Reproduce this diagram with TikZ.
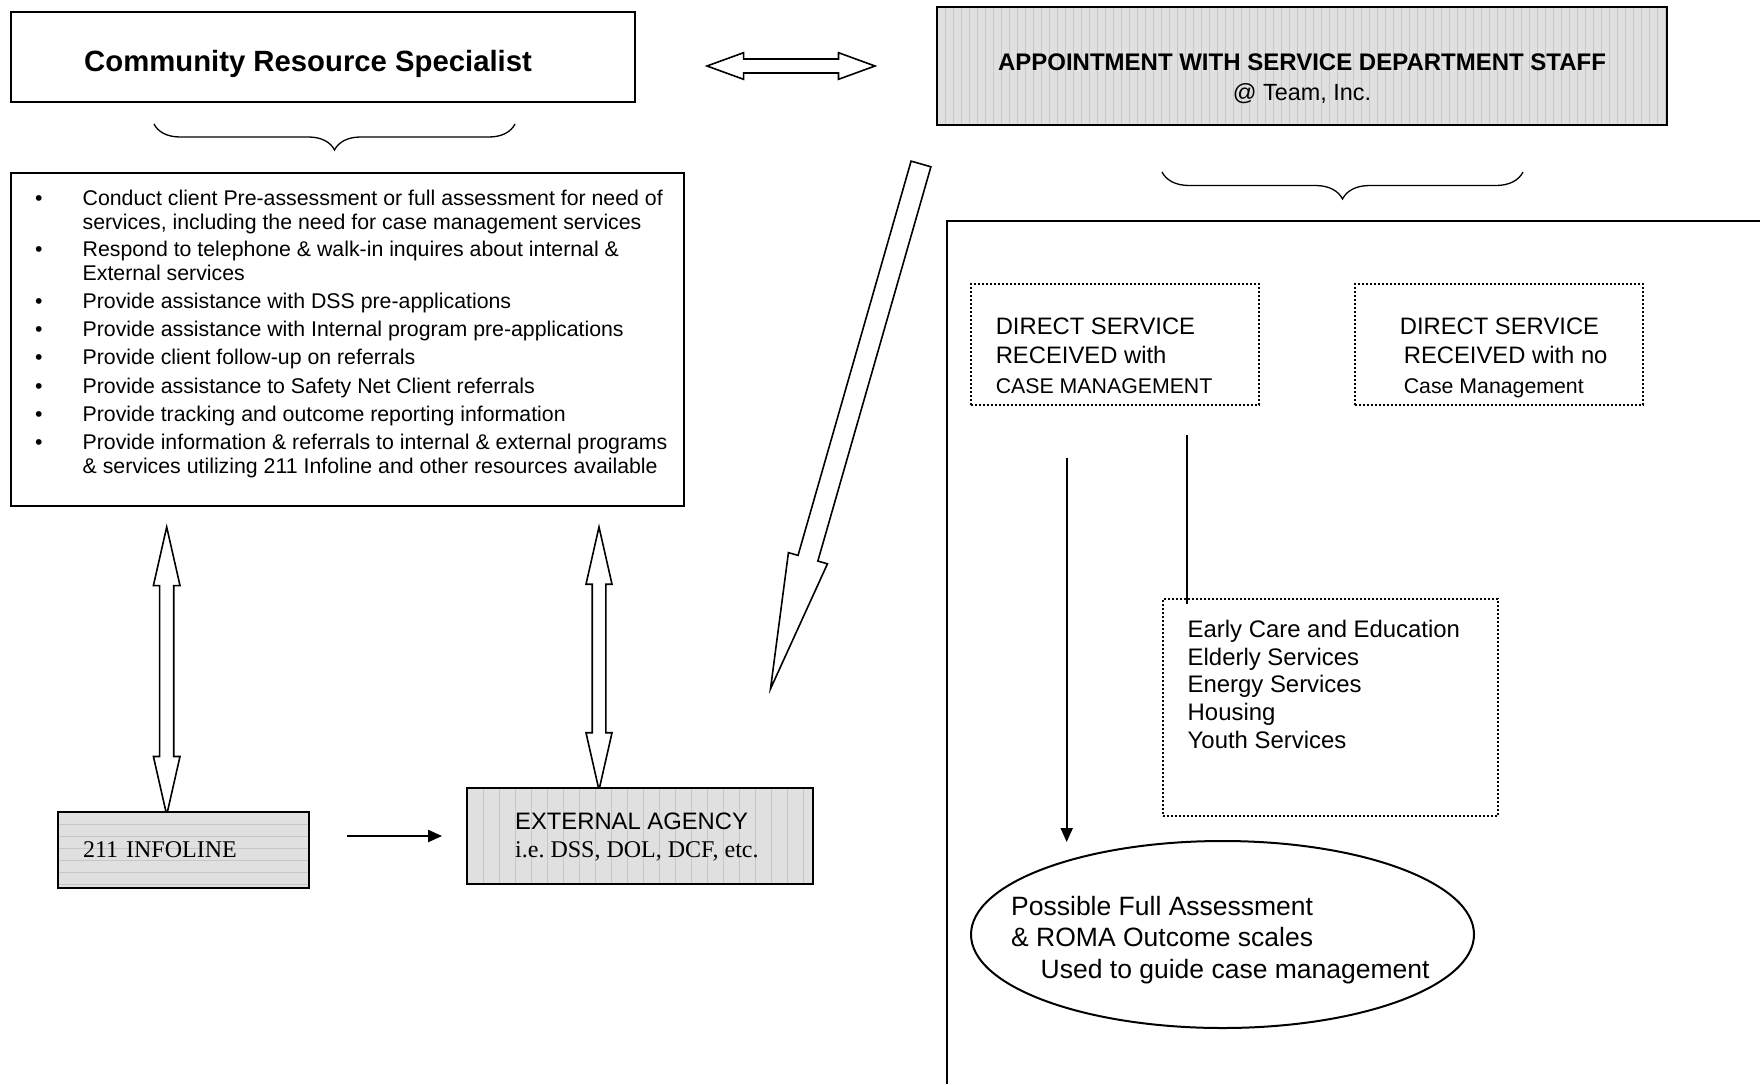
\documentclass[tikz,border=0pt]{standalone}
\usepackage{fontspec}
\setmainfont{Liberation Sans}
\newfontfamily\timesfont{Liberation Serif}
\usetikzlibrary{shapes.arrows,shapes.geometric,decorations.pathreplacing,arrows.meta}

\begin{document}
\begin{tikzpicture}[x=1pt,y=-1pt,
  box/.style={draw,line width=1.8pt,inner sep=0pt},
  shaded/.style={box,fill=black!12},
  vhatch/.style={path picture={\foreach \i in {0,#1,...,760}
    \draw[black!22,line width=0.6pt] ([xshift=\i pt]path picture bounding box.north west) -- ([xshift=\i pt]path picture bounding box.south west);}},
  hhatch/.style={path picture={\foreach \i in {0,#1,...,120}
    \draw[black!22,line width=0.6pt] ([yshift=-\i pt]path picture bounding box.north west) -- ([yshift=-\i pt]path picture bounding box.north east);}},
  dotbox/.style={draw,line width=1.8pt,dash pattern=on 1.8pt off 2.2pt,inner sep=0pt},
  blockarrow/.style={draw,line width=1.6pt,inner xsep=0pt,minimum width=0pt},
  conn/.style={line width=2pt,-{Triangle[length=14pt,width=12pt]}},
  curly/.style={decorate,decoration={brace,amplitude=#1},line width=1.3pt},
  txt/.style={anchor=north west,align=left,inner sep=0pt}]
\useasboundingbox (0,0) rectangle (1760,1084);

\node[box,minimum width=624pt,minimum height=90pt] (crs) at (323,57) {};
\node[anchor=west,inner sep=0pt,font=\fontsize{29.3}{34}\selectfont\bfseries] (crs-txt) at (84,63.5)
  {Community Resource Specialist};
\node[shaded,vhatch=8,line width=2.4pt,minimum width=730pt,minimum height=118pt] (appt) at (1302,66) {};
\node[align=center,anchor=north,inner sep=0pt,font=\fontsize{24}{29.2}\selectfont\bfseries] (appt-txt) at (1302,54)
  {APPOINTMENT WITH SERVICE DEPARTMENT STAFF\\{\mdseries\fontsize{23.4}{29.2}\selectfont @ Team, Inc.}};
\node[blockarrow,double arrow,inner ysep=6.2pt,double arrow head extend=6.3pt,
  double arrow tip angle=40,minimum height=168pt] (link) at (791,66) {};

\draw[curly=26pt] (515,124) -- (154,124);
\draw[curly=27pt] (1523,172) -- (1162,172);

\node[box,minimum width=673pt,minimum height=333pt] (tasks) at (347.5,339.5) {};
\node[txt,font=\fontsize{21.3}{24}\selectfont] (tasks-txt) at (35,188.2) {%
\begin{tabular}{@{}l@{\hspace{40pt}}l@{}}
\textbullet & Conduct client Pre-assessment or full assessment for need of\\
 & services, including the need for case management services\\[3.6pt]
\textbullet & Respond to telephone \& walk-in inquires about internal \&\\
 & External services\\[3.6pt]
\textbullet & Provide assistance with DSS pre-applications\\[4.4pt]
\textbullet & Provide assistance with Internal program pre-applications\\[4pt]
\textbullet & Provide client follow-up on referrals\\[4.2pt]
\textbullet & Provide assistance to Safety Net Client referrals\\[4.2pt]
\textbullet & Provide tracking and outcome reporting information\\[3.9pt]
\textbullet & Provide information \& referrals to internal \& external programs\\
 & \& services utilizing 211 Infoline and other resources available
\end{tabular}};

\node[blockarrow,double arrow,rotate=90,inner ysep=6.25pt,double arrow head extend=6.25pt,
  double arrow tip angle=25.6,minimum height=288pt] (up-info) at (166.7,671) {};
\node[blockarrow,double arrow,rotate=90,inner ysep=6pt,double arrow head extend=6.2pt,
  double arrow tip angle=25.6,minimum height=263pt] (up-agency) at (599,658.5) {};
\node[blockarrow,single arrow,rotate=-106,anchor=tip,inner ysep=9.5pt,single arrow head extend=10pt,
  single arrow tip angle=17,minimum height=546pt] (down) at (769,694) {};

\node[shaded,hhatch=12,minimum width=251pt,minimum height=76pt,text width=201pt,inner xsep=25pt,align=left,
  font=\timesfont\fontsize{24}{28}\selectfont] (infoline) at (183.5,850) {211 INFOLINE};
\node[shaded,vhatch=16,minimum width=346pt,minimum height=96pt] (agency) at (640,836) {};
\node[txt,font=\fontsize{23.8}{28}\selectfont] (agency-txt) at (515,813)
  {EXTERNAL AGENCY\\{\timesfont\frenchspacing\fontsize{24}{28}\selectfont i.e. DSS, DOL, DCF, etc.}};
\coordinate (info-out) at (347,836);
\draw[conn] (info-out) -- ([xshift=-24pt]agency.west);

%\draw[line width=2pt] (947,1084) -- (947,221);
\draw[line width=2pt] (947,1084) |- (1760,221);
\node[dotbox,minimum width=288pt,minimum height=121pt] (dscm) at (1115,344.5) {};
\node[txt,font=\fontsize{23.8}{29.2}\selectfont] (dscm-txt) at (995.6,317.8)
  {DIRECT SERVICE\\RECEIVED with\\{\fontsize{21.3}{29.2}\selectfont CASE MANAGEMENT}};
\node[dotbox,minimum width=288pt,minimum height=121pt] (dsno) at (1499,344.5) {};
\node[txt,font=\fontsize{23.8}{29.2}\selectfont] (dsno-txt) at (1399.6,317.8)
  {DIRECT SERVICE\\\hspace*{4pt}RECEIVED with no\\\hspace*{4pt}{\fontsize{21.3}{29.2}\selectfont Case Management}};
\node[dotbox,minimum width=335pt,minimum height=217pt] (progs) at (1330.5,707.5) {};
\node[txt,font=\fontsize{23.9}{27.8}\selectfont] (progs-txt) at (1187.5,619.7)
  {Early Care and Education\\Elderly Services\\Energy Services\\Housing\\Youth Services};
\node[draw,ellipse,line width=2pt,inner sep=0pt,minimum width=503pt,minimum height=187pt] (roma) at (1222.5,934.5) {};
\node[txt,font=\fontsize{26.5}{31.4}\selectfont] (roma-txt) at (1011,896)
  {Possible Full Assessment\\\& ROMA Outcome scales\\\hspace*{29.5pt}Used to guide case management};

\coordinate (cm-start) at (1066.7,458);
\draw[conn] (cm-start) -- ([yshift=-2pt]cm-start |- roma.north);
\coordinate (no-start) at (1186.7,435);
\draw[line width=2pt] (no-start) -- ([yshift=-6pt]no-start |- progs.north);
\end{tikzpicture}
\end{document}
